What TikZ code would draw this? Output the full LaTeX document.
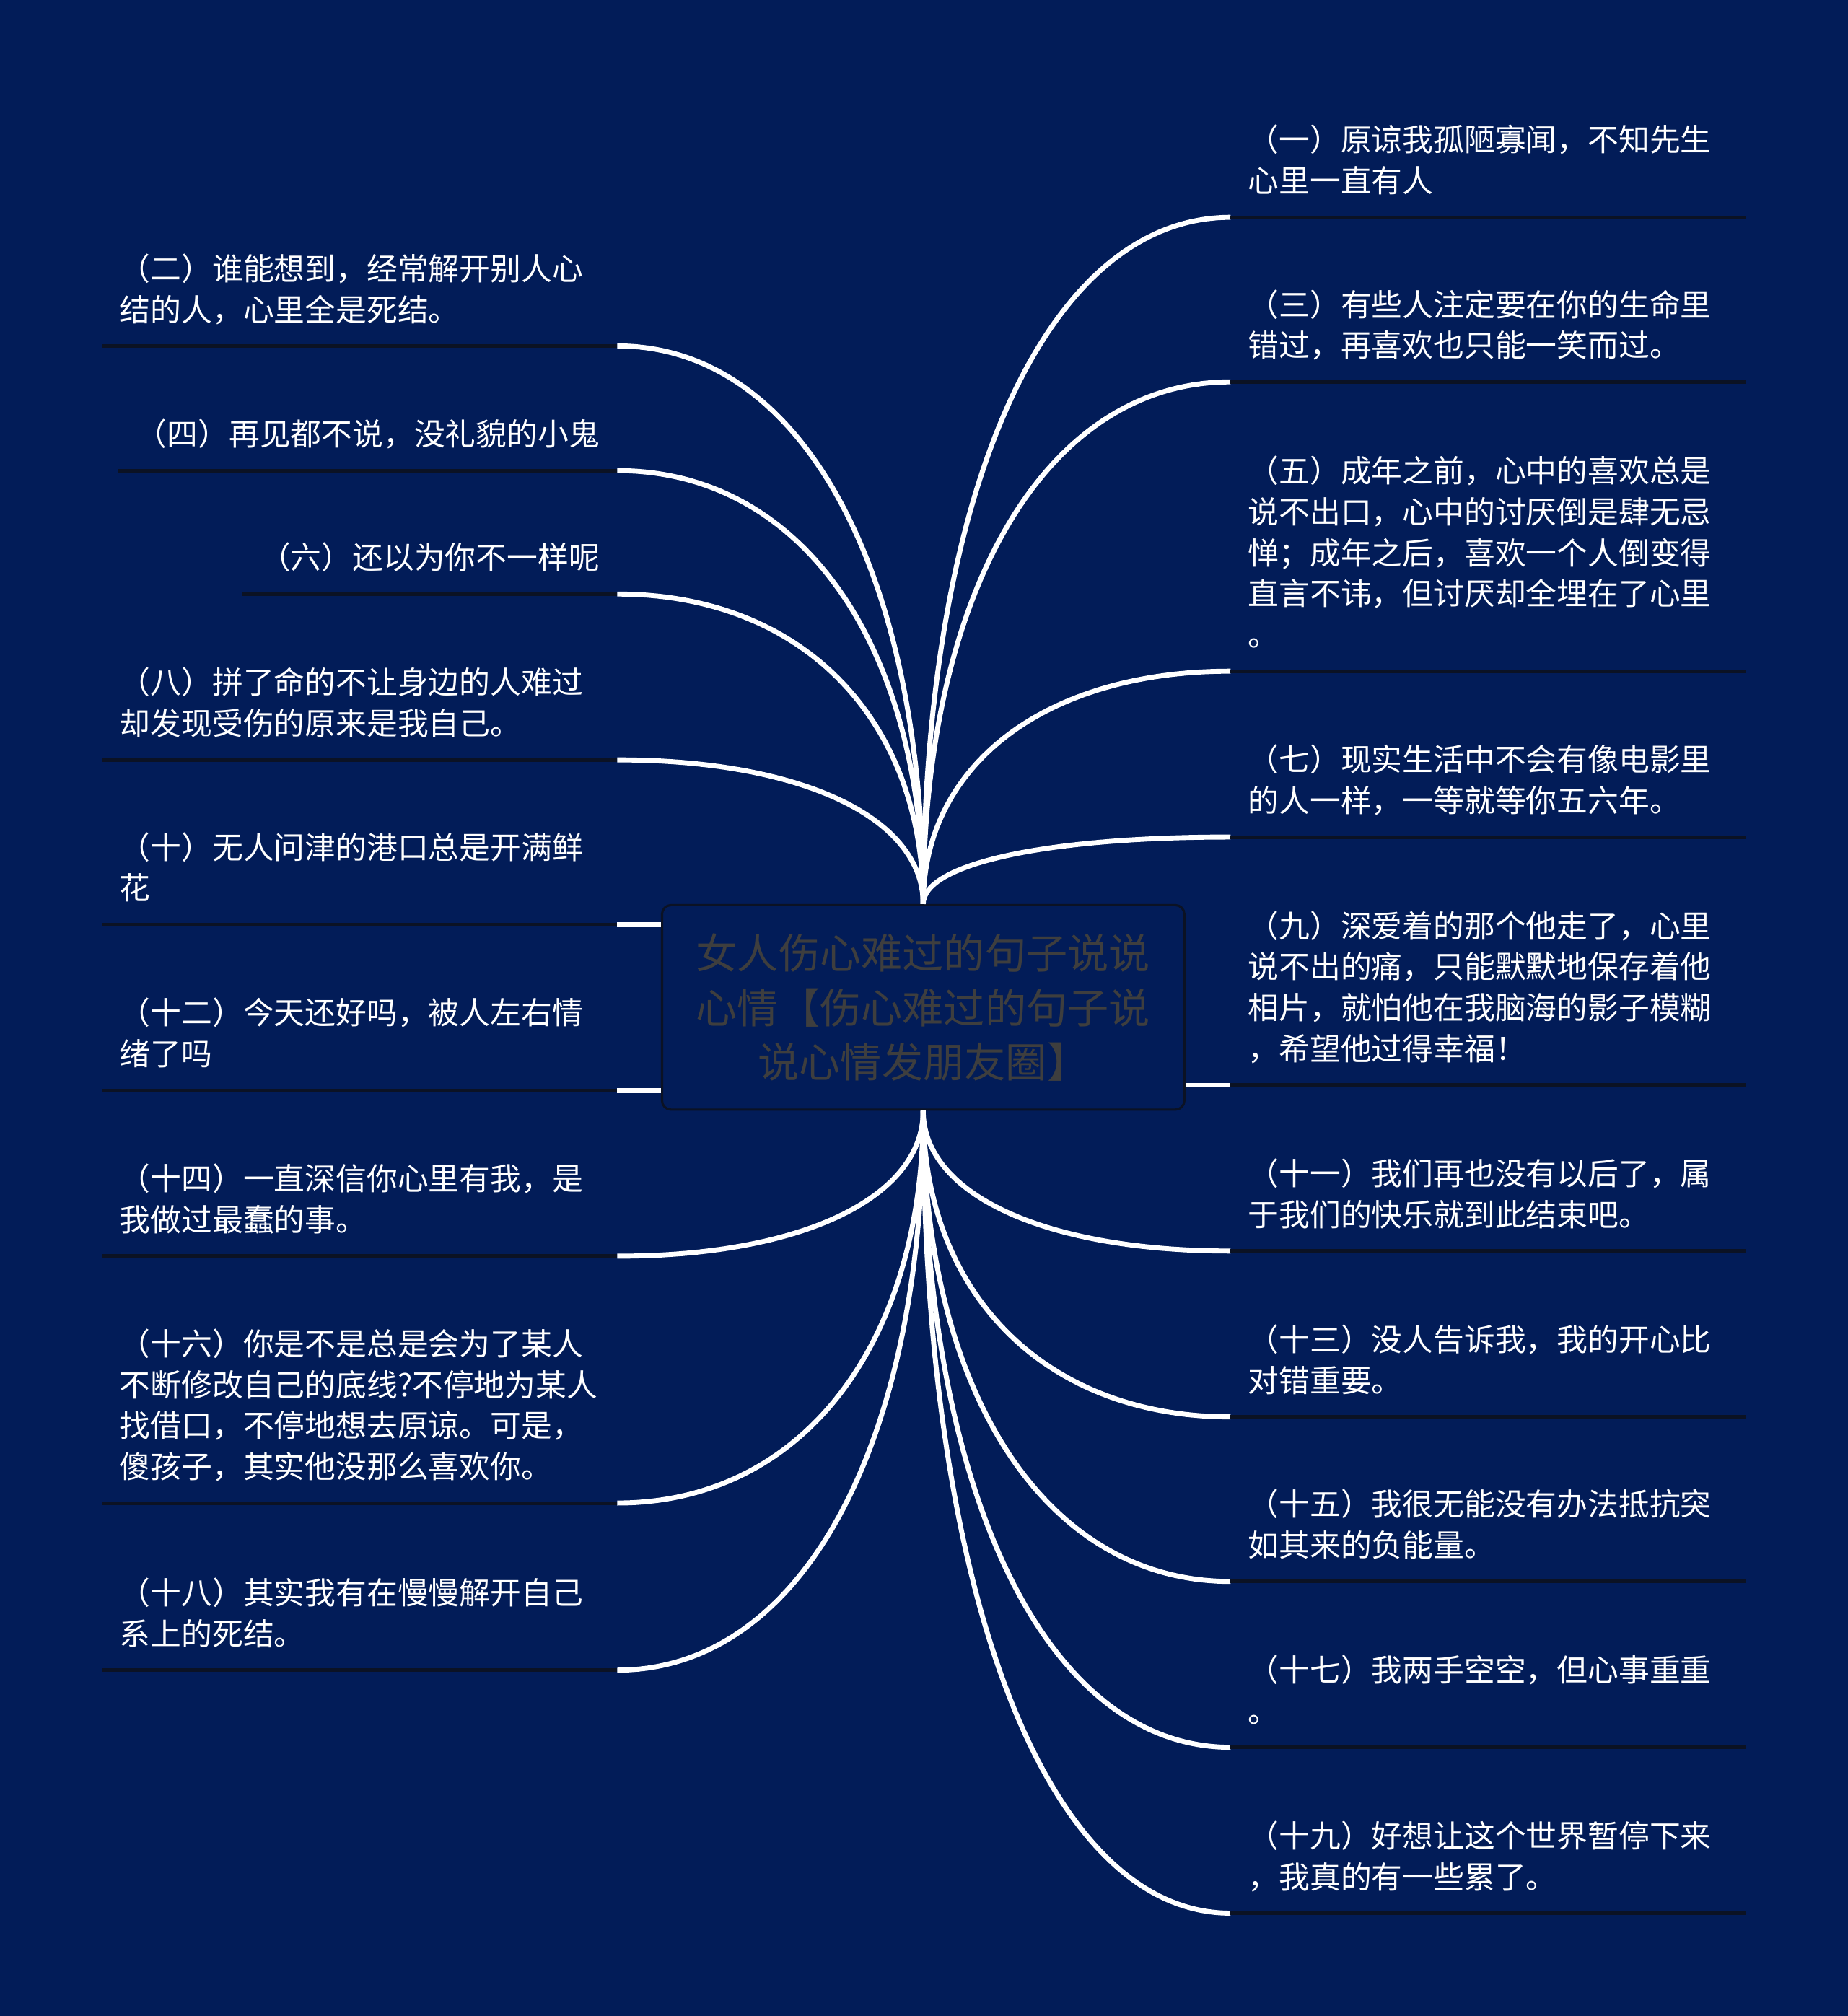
\documentclass[tikz,border=0pt]{standalone}
\usepackage{fontspec}
\setmainfont{Noto Sans CJK SC}
\usetikzlibrary{calc}
\definecolor{navy}{HTML}{021C58}
\definecolor{rulecol}{HTML}{0B1224}
\definecolor{titlegray}{HTML}{3E3E3E}
\tikzset{
  leaf/.style={text=white, align=left, inner xsep=0.13cm, inner ysep=0.09cm,
    font=\fontsize{6.83pt}{9.07pt}\selectfont, execute at end node=\strut},
  wideleaf/.style={leaf, text width=3.73cm},
  rleaf/.style={wideleaf, anchor=south west},
  lleaf/.style={wideleaf, anchor=south east},
  hub/.style={draw=rulecol, line width=0.5pt, fill=navy, rounded corners=0.07cm,
    minimum width=4.06cm, minimum height=1.59cm, inner sep=0pt, align=center,
    text=titlegray, font=\fontsize{9.13pt}{12.05pt}\selectfont},
  wire/.style={draw=white, line width=1.1pt},
  branch/.style={wire, to path={.. controls ($(\tikztostart)!0.6!(\tikztostart|-\tikztotarget)$)
    and ($(\tikztotarget)!0.6!(\tikztostart|-\tikztotarget)$) .. (\tikztotarget)}},
  underline/.style={draw=rulecol, line width=0.8pt}
}
\begin{document}
\begin{tikzpicture}[x=0.01cm, y=-0.01cm]
\fill[navy] (0,0) rectangle (1437,1568);
\useasboundingbox (0,0) rectangle (1437,1568);

\node[hub] (c) at (718,783.5) {女人伤心难过的句子说说\\心情【伤心难过的句子说\\说心情发朋友圈】};

\node[rleaf] (r1) at (957,169) {（一）原谅我孤陋寡闻，不知先生\\心里一直有人};
\node[rleaf] (r3) at (957,297) {（三）有些人注定要在你的生命里\\错过，再喜欢也只能一笑而过。};
\node[rleaf] (r5) at (957,522) {（五）成年之前，心中的喜欢总是\\说不出口，心中的讨厌倒是肆无忌\\惮；成年之后，喜欢一个人倒变得\\直言不讳，但讨厌却全埋在了心里\\。};
\node[rleaf] (r7) at (957,651) {（七）现实生活中不会有像电影里\\的人一样，一等就等你五六年。};
\node[rleaf] (r9) at (957,844) {（九）深爱着的那个他走了，心里\\说不出的痛，只能默默地保存着他\\相片，就怕他在我脑海的影子模糊\\，希望他过得幸福！};
\node[rleaf] (r11) at (957,973) {（十一）我们再也没有以后了，属\\于我们的快乐就到此结束吧。};
\node[rleaf] (r13) at (957,1102) {（十三）没人告诉我，我的开心比\\对错重要。};
\node[rleaf] (r15) at (957,1230) {（十五）我很无能没有办法抵抗突\\如其来的负能量。};
\node[rleaf] (r17) at (957,1359) {（十七）我两手空空，但心事重重\\。};
\node[rleaf] (r19) at (957,1488) {（十九）好想让这个世界暂停下来\\，我真的有一些累了。};

\node[lleaf] (l2) at (480,269) {（二）谁能想到，经常解开别人心\\结的人，心里全是死结。};
\node[leaf, anchor=south east] (l4) at (480,366) {（四）再见都不说，没礼貌的小鬼};
\node[leaf, anchor=south east] (l6) at (480,462) {（六）还以为你不一样呢};
\node[lleaf] (l8) at (480,591) {（八）拼了命的不让身边的人难过\\却发现受伤的原来是我自己。};
\node[lleaf] (l10) at (480,719) {（十）无人问津的港口总是开满鲜\\花};
\node[lleaf] (l12) at (480,848) {（十二）今天还好吗，被人左右情\\绪了吗};
\node[lleaf] (l14) at (480,977) {（十四）一直深信你心里有我，是\\我做过最蠢的事。};
\node[lleaf] (l16) at (480,1169) {（十六）你是不是总是会为了某人\\不断修改自己的底线?不停地为某人\\找借口，不停地想去原谅。可是，\\傻孩子，其实他没那么喜欢你。};
\node[lleaf] (l18) at (480,1299) {（十八）其实我有在慢慢解开自己\\系上的死结。};

\foreach \n in {r1,r3,r5,r7}
  \draw[branch] (c.north) to (\n.south west);
\foreach \n in {l2,l4,l6,l8}
  \draw[branch] (c.north) to (\n.south east);
\foreach \n in {r11,r13,r15,r17,r19}
  \draw[branch] (c.south) to (\n.south west);
\foreach \n in {l14,l16,l18}
  \draw[branch] (c.south) to (\n.south east);
\draw[wire] (c.east|-r9.south west) -- (r9.south west);
\draw[wire] (c.west|-l10.south east) -- (l10.south east);
\draw[wire] (c.west|-l12.south east) -- (l12.south east);

\foreach \n in {r1,r3,r5,r7,r9,r11,r13,r15,r17,r19,l2,l4,l6,l8,l10,l12,l14,l16,l18}
  \draw[underline] (\n.south west) -- (\n.south east);
\end{tikzpicture}
\end{document}
